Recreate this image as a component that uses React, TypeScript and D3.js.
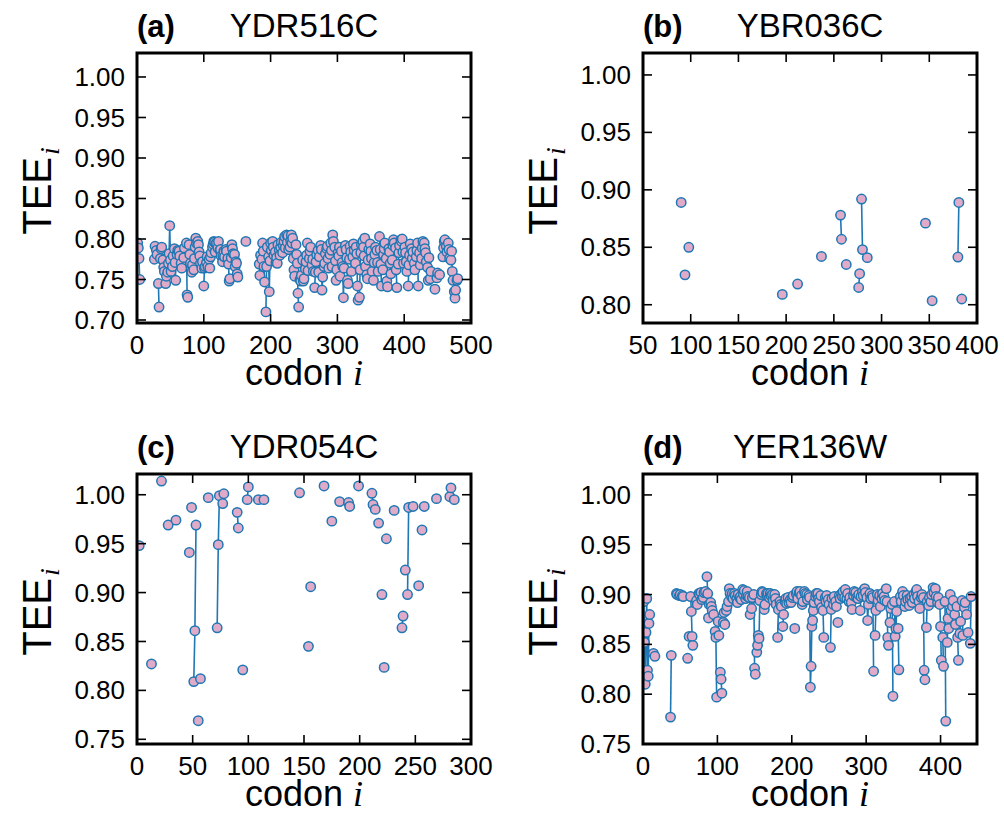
import React from 'react';
import * as d3 from 'd3';

// ---------- data: [codon i, TEE_i] ----------
const aPoints: [number, number][] = [
  [1, .795], [2, .789], [3, .776], [4, .750],
  [26, .775], [27, .791], [29, .786], [30, .781], [32, .745], [33, .716],
  [35, .776], [36, .788], [37, .790], [39, .774], [40, .765], [41, .760],
  [43, .745], [44, .754], [46, .759], [47, .770], [48, .782], [49, .8165], [50, .774], [51, .760],
  [53, .766], [54, .779], [56, .788], [57, .771], [58, .749], [60, .781], [61, .786],
  [63, .785], [64, .779], [66, .770], [67, .764], [70, .777], [71, .789],
  [74, .795], [75, .731], [76, .728], [78, .793], [79, .781], [80, .770],
  [82, .759], [83, .768], [85, .762], [86, .776], [87, .790], [88, .801], [89, .795],
  [91, .797], [92, .793], [93, .784], [94, .779], [95, .770], [97, .764], [98, .772],
  [100, .742], [101, .764], [102, .766], [104, .771], [105, .778], [106, .766],
  [108, .775], [109, .764], [110, .778], [111, .783],
  [113, .790], [114, .7935], [115, .797], [116, .796], [117, .784], [118, .794], [119, .795],
  [121, .789], [122, .797], [124, .786], [125, .787], [126, .779],
  [128, .772], [129, .779], [130, .785], [131, .778], [133, .787], [134, .785],
  [136, .776], [137, .769], [138, .748], [139, .751],
  [141, .777], [142, .793], [143, .788], [144, .782],
  [146, .781], [147, .766], [148, .772], [149, .770], [150, .757], [151, .753],
  [163, .797],
  [183, .769], [184, .755], [185, .780], [187, .775], [188, .795], [189, .785], [190, .766], [191, .747],
  [193, .710], [194, .766], [195, .790], [197, .778], [198, .735], [199, .773], [200, .795], [201, .786],
  [203, .797], [204, .790], [205, .780], [207, .784], [208, .771], [209, .777], [210, .770], [211, .793],
  [213, .786], [214, .780], [215, .790], [216, .796], [218, .783], [219, .792], [220, .797], [221, .803], [222, .789],
  [224, .805], [225, .796], [226, .804], [227, .787],
  [229, .790], [230, .798], [231, .805], [232, .795], [233, .801], [234, .776], [235, .762], [236, .754],
  [238, .793], [239, .781], [240, .770], [241, .733], [242, .716],
  [244, .750], [245, .748], [246, .755], [248, .774], [249, .748], [250, .751],
  [252, .763], [253, .772], [254, .780], [255, .795], [256, .761],
  [258, .776], [259, .785], [260, .790], [262, .768], [263, .775], [264, .760],
  [266, .740], [267, .759], [268, .772], [269, .781], [271, .786], [272, .759], [273, .778],
  [275, .792], [276, .787], [277, .737], [278, .753], [280, .766], [281, .770], [282, .782],
  [284, .788], [285, .791], [286, .776], [287, .764],
  [289, .781], [290, .795], [291, .786], [292, .766], [293, .805], [294, .797],
  [296, .790], [297, .773], [298, .749], [299, .762], [301, .783], [302, .779], [303, .790], [304, .754],
  [306, .785], [307, .771], [308, .766], [309, .7275], [310, .764],
  [312, .792], [313, .787], [314, .777], [315, .749], [316, .745],
  [318, .775], [319, .791], [320, .784], [321, .760], [323, .778], [324, .794], [325, .786],
  [327, .770], [328, .790], [329, .782], [330, .742], [331, .7245],
  [333, .728], [334, .762], [335, .783], [336, .793],
  [338, .797], [339, .790], [340, .779], [341, .801], [342, .766],
  [344, .756], [345, .751], [346, .774], [347, .787], [349, .794], [350, .785], [351, .776], [352, .760],
  [354, .749], [355, .771], [356, .781], [357, .790], [359, .786], [360, .771], [361, .760],
  [363, .803], [364, .787], [365, .769], [366, .742], [368, .762], [369, .781], [370, .788], [371, .795],
  [373, .776], [374, .748], [375, .741], [377, .788], [378, .784], [379, .770], [380, .757],
  [382, .774], [383, .792], [384, .799], [385, .795], [387, .789], [388, .762], [389, .740],
  [391, .769], [392, .783], [393, .792], [395, .799], [396, .797], [397, .800], [398, .784], [399, .770],
  [401, .790], [402, .783], [403, .772], [404, .760], [406, .742], [407, .768], [408, .780], [409, .794],
  [411, .788], [412, .776], [413, .784], [415, .770], [416, .762],
  [418, .778], [419, .786], [420, .795], [421, .742], [423, .783], [424, .768],
  [426, .776], [427, .789], [428, .797], [430, .795], [431, .788], [432, .783], [433, .772],
  [435, .765], [436, .749], [437, .777], [439, .751], [440, .760],
  [446, .738], [449, .752], [450, .758], [453, .756],
  [458, .778], [459, .789], [460, .797], [461, .799], [463, .791], [464, .784],
  [466, .795], [467, .787], [468, .776], [470, .774], [471, .785], [472, .760], [473, .749],
  [475, .735], [476, .727], [477, .737], [479, .749], [480, .751],
];

const bPoints: [number, number][] = [
  [90, .889], [94, .826], [98, .850], [196, .809], [212, .818], [237, .842],
  [257, .878], [258, .857], [263, .835], [276, .815], [277, .827],
  [279, .892], [280, .848], [285, .841], [346, .871], [353, .8035],
  [380, .8415], [381, .889], [384, .805],
];

const cPoints: [number, number][] = [
  [2, .948], [13, .827], [22, 1.014], [28, .969], [35, .974], [47, .941], [49, .987],
  [51, .809], [52, .861], [53, .969], [55, .769], [57, .812], [64, .997],
  [72, .864], [73, .949], [74, .999], [77, .991], [78, 1.001],
  [90, .982], [91, .966], [95, .821], [99, .995], [100, 1.008], [109, .995], [114, .995],
  [146, 1.002], [154, .845], [156, .906], [168, 1.009], [175, .973], [182, .993],
  [190, .992], [191, .988], [199, 1.009], [211, 1.0015], [212, .990], [214, .985],
  [217, .971], [220, .898], [222, .8235], [224, .955], [231, .984],
  [238, .864], [239, .876], [241, .923], [243, .898], [244, .987], [248, .988],
  [253, .907], [256, .964], [258, .988], [269, .996], [281, .998], [282, 1.007], [285, .995],
];

const dPoints: [number, number][] = [
  [1, .893], [2, .852], [3, .810], [4, .862], [5, .896], [6, .824], [7, .818], [8, .871], [9, .880],
  [14, .841], [16, .838], [37, .777], [38, .839],
  [45, .901], [46, .900], [49, .899], [50, .900], [53, .899], [54, .898], [60, .836], [62, .858],
  [64, .898], [65, .883], [66, .858], [67, .849], [72, .894], [73, .890], [75, .901], [76, .900],
  [78, .902], [79, .895], [81, .897], [82, .902], [84, .903],
  [86, .918], [87, .901], [88, .8765], [89, .890], [91, .892], [92, .888], [93, .884], [95, .880],
  [97, .863], [98, .857], [99, .797], [101, .873], [102, .859], [104, .822], [105, .815], [106, .801],
  [108, .872], [109, .882], [110, .870], [112, .884], [113, .888], [115, .893], [116, .906], [117, .901],
  [119, .898], [120, .901], [121, .896], [123, .901], [124, .899], [126, .896], [127, .892], [128, .900],
  [130, .897], [131, .898], [132, .895], [134, .905], [135, .900], [136, .904],
  [138, .896], [139, .899], [140, .903], [141, .898], [143, .897], [144, .880], [146, .886], [147, .897],
  [149, .900], [150, .826], [151, .820], [153, .842], [154, .849], [155, .859], [156, .856], [157, .894],
  [159, .900], [160, .903], [161, .902], [163, .885], [164, .890], [166, .901], [167, .899], [168, .901],
  [170, .897], [171, .901], [172, .899], [174, .900], [175, .894], [177, .900], [178, .896], [179, .890],
  [181, .857], [182, .885], [184, .893], [185, .890], [186, .888], [188, .868], [189, .880],
  [191, .893], [192, .896], [193, .891], [195, .897], [196, .892], [198, .895], [199, .892],
  [201, .897], [202, .899], [204, .866], [206, .901], [207, .903], [208, .896], [210, .902], [211, .903],
  [213, .899], [214, .890], [215, .893], [217, .903], [218, .901], [220, .900], [221, .895],
  [223, .899], [224, .897], [225, .807], [226, .828], [227, .868], [228, .874], [229, .884], [230, .892],
  [232, .898], [233, .901], [235, .901], [236, .896], [237, .893], [239, .899], [240, .887],
  [242, .884], [243, .857], [245, .897], [246, .893], [247, .899], [249, .895], [250, .890],
  [252, .847], [253, .885], [254, .896], [256, .890], [257, .898], [259, .893], [260, .888], [262, .872],
  [264, .899], [265, .896], [267, .901], [268, .898], [269, .903], [271, .897], [272, .905],
  [274, .896], [275, .901], [277, .893], [278, .897], [280, .892], [281, .885], [283, .899], [284, .903],
  [286, .902], [287, .897], [289, .896], [290, .900], [292, .884], [293, .898], [295, .903], [296, .899],
  [298, .906], [299, .902], [301, .897], [302, .874], [303, .890], [305, .901], [306, .896],
  [308, .899], [309, .897], [310, .823], [312, .859], [313, .884], [315, .900], [316, .894],
  [318, .899], [319, .888], [321, .896], [322, .901], [324, .898], [325, .894],
  [327, .906], [328, .893], [329, .857], [330, .849], [332, .872], [333, .886], [335, .890], [336, .798],
  [338, .893], [339, .858], [340, .866], [341, .883], [343, .866], [344, .8245], [346, .898], [347, .893],
  [349, .903], [350, .899], [352, .888], [353, .893], [355, .899], [356, .895], [358, .889], [359, .896],
  [361, .898], [362, .892], [364, .900], [365, .896], [367, .903], [368, .905], [369, .898],
  [371, .893], [372, .886], [374, .897], [375, .900], [377, .897], [378, .824], [379, .8145],
  [381, .867], [382, .893], [384, .889], [385, .897], [387, .893], [388, .900], [390, .907], [391, .902],
  [393, .906], [394, .898], [396, .892], [397, .897], [399, .890], [400, .868], [401, .834],
  [403, .857], [404, .828], [406, .893], [407, .773], [409, .852], [410, .876], [411, .866],
  [413, .900], [414, .884], [416, .888], [417, .894], [419, .880], [420, .870],
  [422, .888], [423, .857], [424, .834], [426, .861], [427, .873], [429, .894], [430, .859],
  [432, .887], [433, .892], [435, .880], [437, .862], [440, .851], [441, .898],
];

const panelLabels = ['(a)', '(b)', '(c)', '(d)'];
const geneNames = ['YDR516C', 'YBR036C', 'YDR054C', 'YER136W'];
const xTicksA = [0, 100, 200, 300, 400, 500];
const xTicksB = [50, 100, 150, 200, 250, 300, 350, 400];
const xTicksC = [0, 50, 100, 150, 200, 250, 300];
const xTicksD = [0, 100, 200, 300, 400];
const yTicksA = [0.70, 0.75, 0.80, 0.85, 0.90, 0.95, 1.00];
const yTicksB = [0.80, 0.85, 0.90, 0.95, 1.00];
const yTicksCD = [0.75, 0.80, 0.85, 0.90, 0.95, 1.00];

const FONT = "'Liberation Sans', Arial, Helvetica, sans-serif";
const SERIF = "'Liberation Serif', 'DejaVu Serif', serif";
const BLUE = '#1f77b4';
const PINK = '#e0abc8';

const panels = [
  { pts: aPoints, xDom: [0, 500], yDom: [0.6963, 1.0296], xTicks: xTicksA, yTicks: yTicksA, left: 137, right: 471, top: 53, bottom: 323 },
  { pts: bPoints, xDom: [50, 400], yDom: [0.7841, 1.0191], xTicks: xTicksB, yTicks: yTicksB, left: 643, right: 977, top: 53, bottom: 323 },
  { pts: cPoints, xDom: [0, 300], yDom: [0.7452, 1.0212], xTicks: xTicksC, yTicks: yTicksCD, left: 137, right: 471, top: 474, bottom: 744 },
  { pts: dPoints, xDom: [0, 449], yDom: [0.75, 1.021], xTicks: xTicksD, yTicks: yTicksCD, left: 643, right: 977, top: 474, bottom: 744 },
];

function Panel({ p, idx }: { p: any; idx: number }) {
  const x = d3.scaleLinear().domain(p.xDom).range([p.left, p.right]);
  const y = d3.scaleLinear().domain(p.yDom).range([p.bottom, p.top]);
  const pts: [number, number][] = p.pts;
  const segs: [number, number][][] = [];
  let cur: [number, number][] = [];
  pts.forEach((d, i) => {
    if (i > 0 && d[0] !== pts[i - 1][0] + 1) {
      segs.push(cur);
      cur = [];
    }
    cur.push(d);
  });
  if (cur.length) segs.push(cur);
  const line = d3.line<[number, number]>().x((d) => x(d[0])).y((d) => y(d[1]));
  const clipId = `clip-${idx}`;
  const tl = 9;
  const yfmt = d3.format('.2f');
  const cx = (p.left + p.right) / 2;
  const cy = (p.top + p.bottom) / 2;
  return (
    <g>
      <defs>
        <clipPath id={clipId}>
          <rect x={p.left} y={p.top} width={p.right - p.left} height={p.bottom - p.top} />
        </clipPath>
      </defs>
      <g clipPath={`url(#${clipId})`}>
        {segs.filter((s) => s.length > 1).map((s, i) => (
          <path key={i} d={line(s) || ''} fill="none" stroke={BLUE} strokeWidth={1.6} />
        ))}
        {pts.map((d, i) => (
          <circle key={i} cx={x(d[0])} cy={y(d[1])} r={4.7} fill={PINK} stroke={BLUE} strokeWidth={1.5} />
        ))}
      </g>
      {p.xTicks.map((t: number) => (
        <g key={'x' + t}>
          <line x1={x(t)} x2={x(t)} y1={p.bottom} y2={p.bottom - tl} stroke="#000" strokeWidth={1.6} />
          <line x1={x(t)} x2={x(t)} y1={p.top} y2={p.top + tl} stroke="#000" strokeWidth={1.6} />
          <text x={x(t)} y={p.bottom + 31} textAnchor="middle" fontSize={26} fill="#000">{t}</text>
        </g>
      ))}
      {p.yTicks.map((t: number) => (
        <g key={'y' + t}>
          <line x1={p.left} x2={p.left + tl} y1={y(t)} y2={y(t)} stroke="#000" strokeWidth={1.6} />
          <line x1={p.right} x2={p.right - tl} y1={y(t)} y2={y(t)} stroke="#000" strokeWidth={1.6} />
          <text x={p.left - 12} y={y(t)} dy="0.35em" textAnchor="end" fontSize={26} fill="#000">{yfmt(t)}</text>
        </g>
      ))}
      <rect x={p.left} y={p.top} width={p.right - p.left} height={p.bottom - p.top} fill="none" stroke="#000" strokeWidth={3} />
      <text x={p.left} y={p.top - 16} fontSize={31} fontWeight="bold" fill="#000">{panelLabels[idx]}</text>
      <text x={cx} y={p.top - 16} fontSize={33} textAnchor="middle" fill="#000">{geneNames[idx]}</text>
      <text x={cx} y={p.bottom + 62} fontSize={36} textAnchor="middle" fill="#000">
        codon <tspan fontFamily={SERIF} fontStyle="italic">i</tspan>
      </text>
      <text transform={`translate(${p.left - 86},${cy + 3}) rotate(-90)`} fontSize={40} textAnchor="middle" fill="#000">
        TEE
        <tspan fontFamily={SERIF} fontStyle="italic" fontSize={28} dx={2} dy={8}>i</tspan>
      </text>
    </g>
  );
}

export default function App() {
  return (
    <svg
      width={1004}
      height={814}
      style={{ position: 'absolute', left: 0, top: 0, background: '#fff' }}
      fontFamily={FONT}
    >
      {panels.map((p, i) => (
        <Panel key={i} p={p} idx={i} />
      ))}
    </svg>
  );
}
